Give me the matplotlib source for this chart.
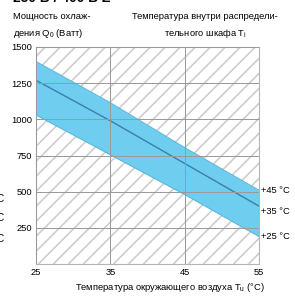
import matplotlib
matplotlib.use("Agg")
import matplotlib.pyplot as plt
import numpy as np

# Data
ambient_temp = [25, 35, 45, 55]
q_45 = [1400, 1115, 805, 510]
q_35 = [1270, 990, 695, 400]
q_25 = [1030, 755, 480, 190]
y_ticks = [250, 500, 750, 1000, 1250, 1500]
x_ticks = [25, 35, 45, 55]
curve_labels = ["+45 °C", "+35 °C", "+25 °C"]

plt.rcParams['font.family'] = ['Liberation Sans Narrow', 'Liberation Sans', 'DejaVu Sans']

DPI = 90
W, H = 295, 296
AX_W, AX_H = 223, 217
fig = plt.figure(figsize=(W / DPI, H / DPI), dpi=DPI)
ax = fig.add_axes([36 / W, (H - 264) / H, AX_W / W, AX_H / H])

# hatched background (decorative 45° lines, 15 px apart horizontally)
step = 15 / AX_W
ratio = AX_H / AX_W
for x0 in np.arange(-1.2, 1.2, step):
    ax.plot([x0, x0 + ratio], [0, 1], transform=ax.transAxes, color='#cdcdcd',
            lw=1.3, zorder=0.2, clip_on=True, solid_capstyle='butt')

band = '#6fcdef'
ax.fill_between(ambient_temp, q_25, q_45, color=band, lw=0, zorder=1)
ax.plot(ambient_temp, q_45, color='#5ab6da', lw=0.8, zorder=2)
ax.plot(ambient_temp, q_25, color='#5ab6da', lw=0.8, zorder=2)
ax.plot(ambient_temp, q_35, color='#3a7fa6', lw=1.1, zorder=2)

ax.set_xlim(25, 55)
ax.set_ylim(0, 1500)
ax.set_xticks(x_ticks)
ax.set_yticks(y_ticks)
ax.set_xticklabels([str(v) for v in x_ticks], fontsize=7.5)
ax.set_yticklabels([str(v) for v in y_ticks], fontsize=7.5)
ax.tick_params(length=0, pad=3)
ax.grid(True, color='#9a9a9a', lw=0.8)
ax.set_axisbelow(False)
for s in ax.spines.values():
    s.set_color('#b5b5b5')
    s.set_linewidth(0.9)

# curve labels at right
offsets = [0, -4, 0]
for lbl, series, off in zip(curve_labels, [q_45, q_35, q_25], offsets):
    ax.annotate(lbl, xy=(ambient_temp[-1], series[-1]), xytext=(1.5, off),
                textcoords='offset points', ha='left', va='center',
                fontsize=7.5, annotation_clip=False)

# texts
fig.text(170 / W, 1 - 287 / H, 'Температура окружающего воздуха T$_\\mathregular{u}$ (°C)',
         ha='center', va='center', fontsize=7.5)
fig.text(13 / W, 1 - 26 / H, 'Мощность охлаж-\nдения Q$_\\mathregular{0}$ (Ватт)',
         ha='left', va='center', fontsize=7.5, linespacing=1.6)
fig.text(205 / W, 1 - 26 / H, 'Температура внутри распредели-\nтельного шкафа T$_\\mathregular{i}$',
         ha='center', va='center', fontsize=7.5, linespacing=1.6, multialignment='center')
fig.text(13 / W, 1 - 2 / H, '230 В / 400 В Z', ha='left', va='baseline',
         fontsize=11, fontweight='bold')
for yp in [199, 218, 239]:
    fig.text(4 / W, 1 - yp / H, 'C', ha='right', va='center', fontsize=8)

fig.savefig('out.png', dpi=DPI)
